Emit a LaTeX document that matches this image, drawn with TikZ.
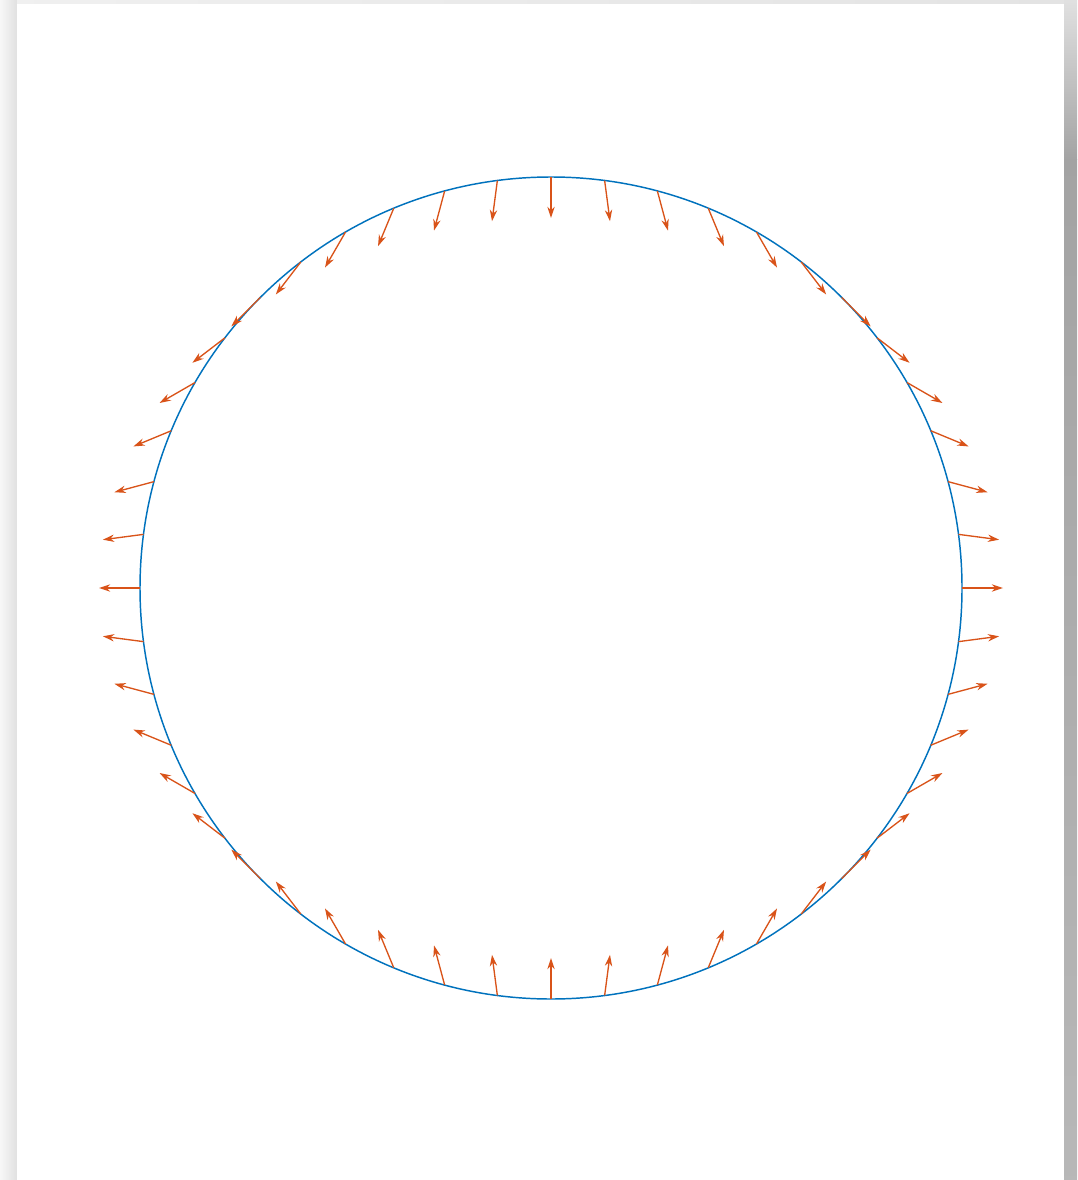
\documentclass[tikz,border=0pt]{standalone}
\usetikzlibrary{arrows.meta,calc}
\definecolor{mblue}{rgb}{0,0.447,0.741}
\definecolor{morange}{rgb}{0.85,0.325,0.098}
\tikzset{
  ring/.style={draw=mblue, line width=1.1pt},
  vec/.style={draw=morange, line width=1pt, -{Stealth[length=8.5pt,width=5.5pt]}},
}
\begin{document}
\begin{tikzpicture}[x=0.75pt,y=-0.75pt]
\useasboundingbox (0,0) rectangle (1077,1180);
% page frame / shadow
\fill[white] (0,0) rectangle (1077,1180);
\shade[left color=black!3, right color=black!12] (0,0) rectangle (17,1180);
\shade[left color=black!6, right color=black!11] (17,0) rectangle (1064,4);
\shade[top color=black!12, bottom color=black!36] (1064,0) rectangle (1077,160);
\shade[top color=black!36, bottom color=black!28] (1064,160) rectangle (1077,1180);
\fill[white] (17,4) rectangle (1064,1180);
% circle
\coordinate (c) at (551,588);
\draw[ring] (c) circle[radius=411];
% vector field (x,-y) on the circle
\foreach \k in {0,...,47}{
  \pgfmathsetmacro{\cs}{cos(7.5*\k)}
  \pgfmathsetmacro{\sn}{sin(7.5*\k)}
  \coordinate (a\k) at ($(c)+({411*\cs},{-411*\sn})$);
  \coordinate (b\k) at ($(c)+({452*\cs},{-370*\sn})$);
  \draw[vec] (a\k) -- (b\k);
}
\end{tikzpicture}
\end{document}
